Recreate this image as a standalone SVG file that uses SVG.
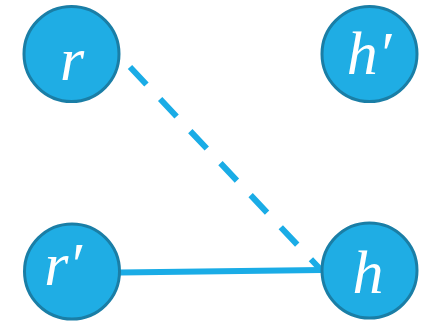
<svg xmlns="http://www.w3.org/2000/svg" width="428" height="327" viewBox="0 0 428 327">
<style>
.node{fill:#1FADE4;stroke:#1A7EA6;stroke-width:3}
.lbl{fill:#fff;font-family:"Liberation Serif","DejaVu Serif",serif;font-style:italic;font-size:62px;text-anchor:middle}
.edge{stroke:#1AACE6;stroke-width:6;fill:none}
</style>
<rect width="428" height="327" fill="#fff"/>
<g id="connectors">
<line class="edge" x1="120" y1="272.5" x2="322" y2="270"/>
<line class="edge" x1="130" y1="67" x2="322" y2="271" stroke-dasharray="24 20"/>
</g>
<g id="node-r"><circle class="node" cx="71.5" cy="54" r="47.5"/><text class="lbl" x="72" y="80">r</text></g>
<g id="node-hp"><circle class="node" cx="369.5" cy="54" r="47.5"/><text class="lbl" x="369" y="74">h′</text></g>
<g id="node-rp"><circle class="node" cx="72" cy="271.5" r="47.5"/><text class="lbl" x="63" y="285">r′</text></g>
<g id="node-h"><circle class="node" cx="369.5" cy="270.5" r="47.5"/><text class="lbl" x="368" y="293">h</text></g>
</svg>
